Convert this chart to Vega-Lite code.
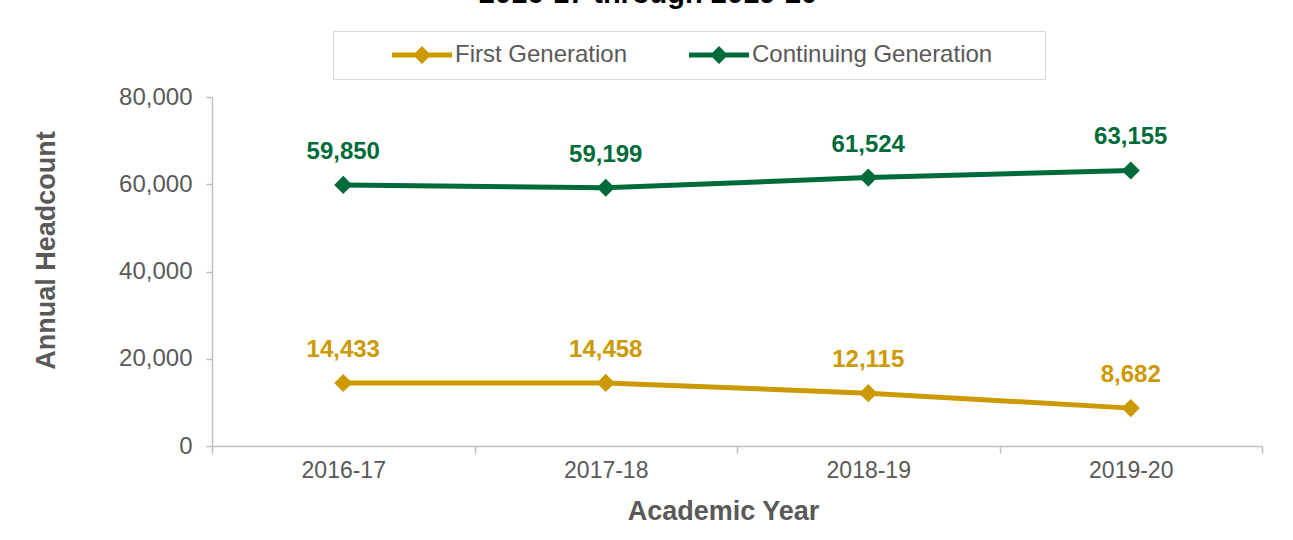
{
  "$schema": "https://vega.github.io/schema/vega-lite/v6.json",
  "width": 1050,
  "height": 349,
  "autosize": {"type": "none"},
  "padding": {"left": 212, "top": 97, "right": 31, "bottom": 94},
  "background": "white",
  "title": {
    "text": "2016-17 through 2019-20",
    "fontSize": 29,
    "fontWeight": "bold",
    "font": "Liberation Sans",
    "color": "#000000",
    "anchor": "middle",
    "dx": -89,
    "dy": 21,
    "baseline": "alphabetic",
    "offset": 20
  },
  "config": {
    "view": {"stroke": null},
    "font": "Liberation Sans",
    "axis": {
      "labelFont": "Liberation Sans",
      "titleFont": "Liberation Sans",
      "labelColor": "#595959",
      "titleColor": "#595959",
      "domainColor": "#bfbfbf",
      "tickColor": "#bfbfbf",
      "domainWidth": 1.5,
      "tickWidth": 1.5,
      "grid": false
    }
  },
  "data": {
    "values": [
      {"year": "2016-17", "group": "First Generation", "value": 14433},
      {"year": "2017-18", "group": "First Generation", "value": 14458},
      {"year": "2018-19", "group": "First Generation", "value": 12115},
      {"year": "2019-20", "group": "First Generation", "value": 8682},
      {"year": "2016-17", "group": "Continuing Generation", "value": 59850},
      {"year": "2017-18", "group": "Continuing Generation", "value": 59199},
      {"year": "2018-19", "group": "Continuing Generation", "value": 61524},
      {"year": "2019-20", "group": "Continuing Generation", "value": 63155}
    ]
  },
  "encoding": {
    "x": {
      "field": "year",
      "type": "nominal",
      "bandPosition": 0.5,
      "scale": {"type": "band", "paddingInner": 0, "paddingOuter": 0},
      "axis": {
        "orient": "bottom",
        "tickBand": "extent",
        "labelAngle": 0,
        "tickSize": 7,
        "labelPadding": 6,
        "labelFontSize": 23,
        "title": "Academic Year",
        "titleFontSize": 27,
        "titleFontWeight": "bold",
        "titlePadding": 16,
        "titleX": 511
      }
    },
    "y": {
      "field": "value",
      "type": "quantitative",
      "scale": {"domain": [0, 80000]},
      "axis": {
        "values": [0, 20000, 40000, 60000, 80000],
        "labelExpr": "format(datum.value, ',')",
        "tickSize": 6,
        "labelPadding": 14,
        "labelFontSize": 24,
        "title": "Annual Headcount",
        "titleFontSize": 27,
        "titleFontWeight": "bold",
        "titlePadding": 58,
        "titleY": 153
      }
    },
    "color": {
      "field": "group",
      "type": "nominal",
      "scale": {
        "domain": ["First Generation", "Continuing Generation"],
        "range": ["#CC9900", "#006B3A"]
      },
      "legend": {
        "orient": "none",
        "legendX": 121,
        "legendY": -66,
        "direction": "horizontal",
        "title": "\u00a0",
        "titleOrient": "right",
        "titleFontSize": 1,
        "titlePadding": 41,
        "symbolType": "M-1,-0.25H5V0.25H-1Z M2,-0.9L2.9,0L2,0.9L1.1,0Z",
        "symbolSize": 400,
        "symbolOffset": 45,
        "symbolStrokeWidth": 0,
        "labelOffset": 41,
        "columnPadding": 14,
        "padding": 12,
        "strokeColor": "#d9d9d9",
        "fillColor": "white",
        "labelFont": "Liberation Sans",
        "labelFontSize": 24,
        "labelColor": "#595959",
        "labelLimit": 0,
        "encode": {
          "symbols": {
            "update": {
              "fill": {"scale": "color", "field": "value"},
              "stroke": {"value": "transparent"},
              "opacity": {"value": 1}
            }
          }
        }
      }
    }
  },
  "layer": [
    {"mark": {"type": "line", "strokeWidth": 5}},
    {"mark": {"type": "point", "shape": "diamond", "filled": true, "size": 330, "opacity": 1}},
    {
      "mark": {"type": "text", "dy": -33, "baseline": "middle", "fontSize": 24, "fontWeight": "bold", "font": "Liberation Sans"},
      "encoding": {"text": {"field": "value", "type": "quantitative", "format": ","}}
    }
  ]
}
